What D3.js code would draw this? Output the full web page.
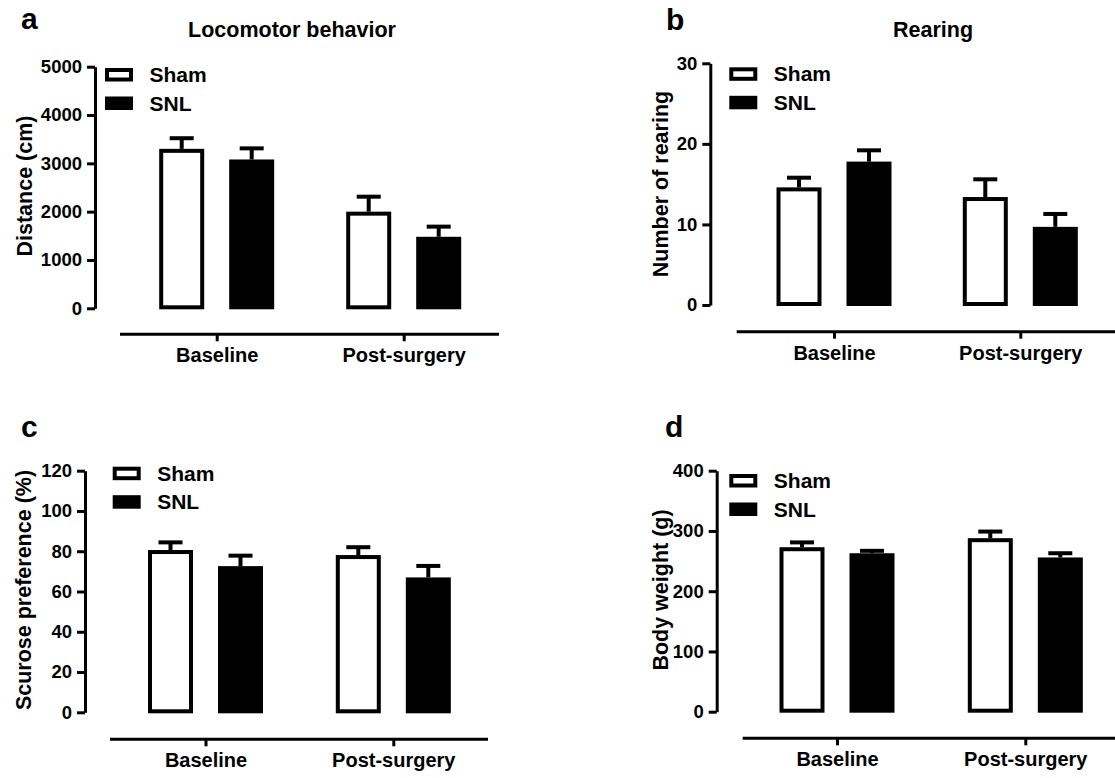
<!DOCTYPE html>
<html>
<head>
<meta charset="utf-8">
<script src="https://cdn.jsdelivr.net/npm/d3@7"></script>
<style>
    body { margin: 0; background: #fff; }
    svg text { font-family: 'Liberation Sans', Arial, Helvetica, sans-serif; font-weight: bold; fill: #000; }
</style>
</head>
<body>
<div id="figure"></div>
<script>
// values (mean, SEM)
const categories = ['Baseline', 'Post-surgery'];
const groups = ['Sham', 'SNL'];

const locomotorSham = [3300, 2000];
const locomotorShamSem = [220, 310];
const locomotorSnl = [3080, 1480];
const locomotorSnlSem = [230, 210];
const locomotorTicks = [0, 1000, 2000, 3000, 4000, 5000];

const rearingSham = [14.6, 13.4];
const rearingShamSem = [1.2, 2.2];
const rearingSnl = [17.8, 9.7];
const rearingSnlSem = [1.4, 1.6];
const rearingTicks = [0, 10, 20, 30];

const sucroseSham = [80.6, 78.1];
const sucroseShamSem = [3.8, 3.9];
const sucroseSnl = [72.6, 67.0];
const sucroseSnlSem = [5.2, 5.7];
const sucroseTicks = [0, 20, 40, 60, 80, 100, 120];

const weightSham = [273, 288];
const weightShamSem = [8, 11];
const weightSnl = [263, 256];
const weightSnlSem = [4, 7];
const weightTicks = [0, 100, 200, 300, 400];

// layout of the four panels
const panels = [
    {
        letter: 'a', title: 'Locomotor behavior', yLabel: 'Distance (cm)',
        ticks: locomotorTicks, series: [[locomotorSham, locomotorShamSem], [locomotorSnl, locomotorSnlSem]],
        axisX: 95, yTop: 66.7, yBottom: 308.3, baseY: 334.3, baseFrom: 120, baseTo: 499,
        centers: [216.7, 403.7], legendX: 105, legendY: 68,
        letterX: 21, letterY: 29, titleX: 292, titleY: 37, labelX: 24, labelY: 186
    },
    {
        letter: 'b', title: 'Rearing', yLabel: 'Number of rearing',
        ticks: rearingTicks, series: [[rearingSham, rearingShamSem], [rearingSnl, rearingSnlSem]],
        axisX: 710.3, yTop: 63.3, yBottom: 305, baseY: 331.7, baseFrom: 736.7, baseTo: 1115,
        centers: [834, 1020.3], legendX: 729.3, legendY: 67.3,
        letterX: 666, letterY: 30, titleX: 933, titleY: 37, labelX: 660, labelY: 184
    },
    {
        letter: 'c', title: '', yLabel: 'Scurose preference (%)',
        ticks: sucroseTicks, series: [[sucroseSham, sucroseShamSem], [sucroseSnl, sucroseSnlSem]],
        axisX: 85, yTop: 470.7, yBottom: 712.3, baseY: 739.3, baseFrom: 110, baseTo: 488,
        centers: [205.5, 393.3], legendX: 112.7, legendY: 466.7,
        letterX: 21, letterY: 436.5, titleX: 0, titleY: 0, labelX: 23, labelY: 590
    },
    {
        letter: 'd', title: '', yLabel: 'Body weight (g)',
        ticks: weightTicks, series: [[weightSham, weightShamSem], [weightSnl, weightSnlSem]],
        axisX: 716.7, yTop: 470.7, yBottom: 711.7, baseY: 738.3, baseFrom: 742.7, baseTo: 1115,
        centers: [837, 1025.3], legendX: 729.3, legendY: 474,
        letterX: 665, letterY: 437, titleX: 0, titleY: 0, labelX: 660, labelY: 590
    }
];

const width = 1115, height = 778;
const barStroke = 4, axisStroke = 3;

const svg = d3.select('#figure')
    .append('svg')
    .attr('width', width)
    .attr('height', height);

svg.append('rect').attr('width', width).attr('height', height).attr('fill', '#fff');

// offsets of the two bars inside a category
const inner = d3.scaleBand()
    .domain(groups)
    .range([-70, 70])
    .paddingInner(25 / 70)
    .paddingOuter(12.5 / 70);

panels.forEach(p => {
    const g = svg.append('g');

    const y = d3.scaleLinear()
        .domain([0, d3.max(p.ticks)])
        .range([p.yBottom, p.yTop]);
    const x = d3.scalePoint()
        .domain(categories)
        .range(p.centers);

    // y axis
    const yAxis = d3.axisLeft(y)
        .tickValues(p.ticks)
        .tickSize(8)
        .tickSizeOuter(0)
        .tickPadding(5)
        .tickFormat(d3.format('d'));
    const yg = g.append('g')
        .attr('transform', `translate(${p.axisX},0)`)
        .call(yAxis);
    yg.select('.domain').attr('stroke', '#000').attr('stroke-width', axisStroke);
    yg.selectAll('.tick line').attr('stroke', '#000').attr('stroke-width', axisStroke);
    yg.selectAll('.tick text').style('font-size', '18.5px');

    // x axis, detached below the plot
    const xAxis = d3.axisBottom(x)
        .tickSize(7)
        .tickSizeOuter(0)
        .tickPadding(7);
    const xg = g.append('g')
        .attr('transform', `translate(0,${p.baseY})`)
        .call(xAxis);
    xg.select('.domain').remove();
    xg.insert('line', ':first-child')
        .attr('x1', p.baseFrom)
        .attr('x2', p.baseTo)
        .attr('stroke', '#000')
        .attr('stroke-width', axisStroke);
    xg.selectAll('.tick line').attr('stroke', '#000').attr('stroke-width', axisStroke);
    xg.selectAll('.tick text').style('font-size', '20px');

    // bars with SEM (upper half only)
    groups.forEach((grp, gi) => {
        const [means, sems] = p.series[gi];
        const open = gi === 0;
        const bw = inner.bandwidth();

        categories.forEach((cat, ci) => {
            const left = x(cat) + inner(grp);
            const top = y(means[ci]);
            const bottom = y(0) + 1;
            const cx = left + bw / 2;

            g.append('line')
                .attr('x1', cx).attr('x2', cx)
                .attr('y1', top).attr('y2', y(means[ci] + sems[ci]))
                .attr('stroke', '#000')
                .attr('stroke-width', 4);
            g.append('line')
                .attr('x1', cx - 12).attr('x2', cx + 12)
                .attr('y1', y(means[ci] + sems[ci])).attr('y2', y(means[ci] + sems[ci]))
                .attr('stroke', '#000')
                .attr('stroke-width', 4);

            if (open) {
                g.append('rect')
                    .attr('x', left + barStroke / 2)
                    .attr('y', top + barStroke / 2)
                    .attr('width', bw - barStroke)
                    .attr('height', bottom - top - barStroke)
                    .attr('fill', '#fff')
                    .attr('stroke', '#000')
                    .attr('stroke-width', barStroke);
            } else {
                g.append('rect')
                    .attr('x', left)
                    .attr('y', top)
                    .attr('width', bw)
                    .attr('height', bottom - top)
                    .attr('fill', '#000');
            }
        });
    });

    // legend
    groups.forEach((grp, gi) => {
        const ly = p.legendY + gi * 28.5;
        if (gi === 0) {
            g.append('rect')
                .attr('x', p.legendX + 2).attr('y', ly + 2)
                .attr('width', 24).attr('height', 9.5)
                .attr('fill', '#fff').attr('stroke', '#000').attr('stroke-width', 4);
        } else {
            g.append('rect')
                .attr('x', p.legendX).attr('y', ly)
                .attr('width', 28).attr('height', 13.5)
                .attr('fill', '#000');
        }
        g.append('text')
            .attr('x', p.legendX + 44.5)
            .attr('y', ly + 14)
            .style('font-size', '21px')
            .text(grp);
    });

    // y label
    g.append('text')
        .attr('transform', `translate(${p.labelX},${p.labelY}) rotate(-90)`)
        .attr('text-anchor', 'middle')
        .attr('dy', '0.35em')
        .style('font-size', '21.5px')
        .text(p.yLabel);

    // title and panel letter
    if (p.title) {
        g.append('text')
            .attr('x', p.titleX)
            .attr('y', p.titleY)
            .attr('text-anchor', 'middle')
            .style('font-size', '21.5px')
            .text(p.title);
    }
    g.append('text')
        .attr('x', p.letterX)
        .attr('y', p.letterY)
        .style('font-size', '30px')
        .text(p.letter);
});
</script>
</body>
</html>
